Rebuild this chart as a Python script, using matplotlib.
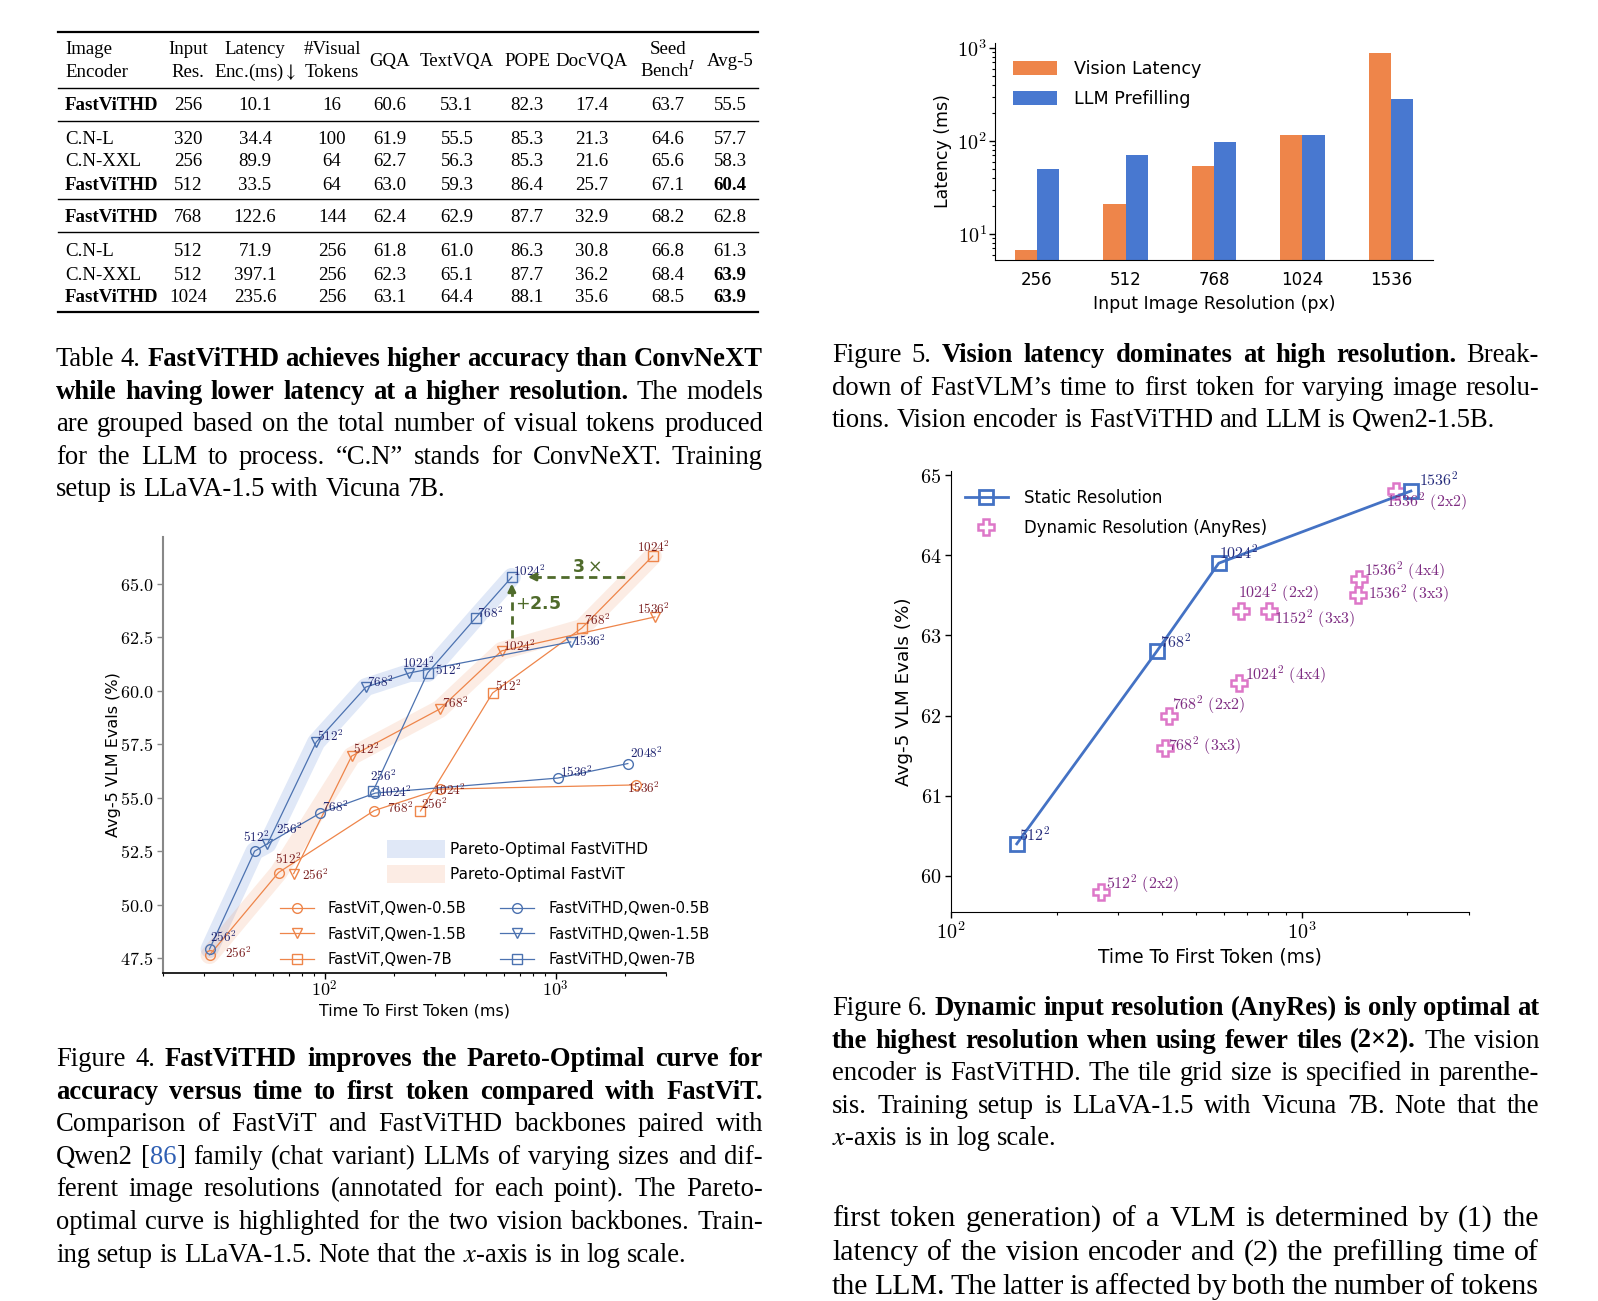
import matplotlib
matplotlib.use('Agg')
import numpy as np
import matplotlib.pyplot as plt
from matplotlib.lines import Line2D
from matplotlib.patches import Patch
from matplotlib.ticker import FuncFormatter, LogLocator, NullFormatter

plt.rcParams['mathtext.fontset'] = 'cm'
plt.rcParams['font.family'] = ['DejaVu Sans']

# ---------------- data ----------------
# Table 4
encoders = ['FastViTHD', 'C.N-L', 'C.N-XXL', 'FastViTHD', 'FastViTHD', 'C.N-L', 'C.N-XXL', 'FastViTHD']
input_res = ['256', '320', '256', '512', '768', '512', '512', '1024']
enc_latency = ['10.1', '34.4', '89.9', '33.5', '122.6', '71.9', '397.1', '235.6']
visual_tokens = ['16', '100', '64', '64', '144', '256', '256', '256']
gqa = [60.6, 61.9, 62.7, 63.0, 62.4, 61.8, 62.3, 63.1]
textvqa = [53.1, 55.5, 56.3, 59.3, 62.9, 61.0, 65.1, 64.4]
pope = [82.3, 85.3, 85.3, 86.4, 87.7, 86.3, 87.7, 88.1]
docvqa = [17.4, 21.3, 21.6, 25.7, 32.9, 30.8, 36.2, 35.6]
seedbench = [63.7, 64.6, 65.6, 67.1, 68.2, 66.8, 68.4, 68.5]
avg5 = [55.5, 57.7, 58.3, 60.4, 62.8, 61.3, 63.9, 63.9]
avg5_best = [3, 6, 7]

# Figure 5
resolutions = ['256', '512', '768', '1024', '1536']
vision_latency = [6.7, 21, 54, 115, 883]
llm_prefill = [50, 70.6, 97, 115, 283]

# Figure 4
vit_05_x = [31.8, 63.2, 164, 315, 2218]
vit_05_y = [47.64, 51.5, 54.4, 55.4, 55.6]
vit_05_res = [256, 512, 768, 1024, 1536]
vit_15_x = [73.5, 131, 315, 583, 2685]
vit_15_y = [51.45, 56.95, 59.15, 61.87, 63.46]
vit_15_res = [256, 512, 768, 1024, 1536]
vit_7_x = [260, 533, 1297, 2630]
vit_7_y = [54.38, 59.9, 62.94, 66.31]
vit_7_res = [256, 512, 768, 1024]
hd_05_x = [31.8, 49.8, 96, 166, 1020, 2051]
hd_05_y = [47.92, 52.5, 54.29, 55.22, 55.92, 56.6]
hd_05_res = [256, 512, 768, 1024, 1536, 2048]
hd_15_x = [56.6, 92, 151, 233, 1161]
hd_15_y = [52.83, 57.6, 60.18, 60.84, 62.29]
hd_15_res = [256, 512, 768, 1024, 1536]
hd_7_x = [162, 279, 450, 646]
hd_7_y = [55.3, 60.84, 63.41, 65.33]
hd_7_res = [256, 512, 768, 1024]
hd_pareto_x = [31.8, 49.8, 56.6, 92, 151, 233, 279, 450, 646]
hd_pareto_y = [47.92, 52.5, 52.83, 57.6, 60.18, 60.84, 60.84, 63.41, 65.33]
vit_pareto_x = [31.8, 63.2, 131, 315, 583, 1297, 2630]
vit_pareto_y = [47.64, 51.5, 56.95, 59.15, 61.87, 62.94, 66.31]

# Figure 6
static_x = [154, 386, 580, 2048]
static_y = [60.4, 62.8, 63.9, 64.8]
static_res = [512, 768, 1024, 1536]
dyn_x = [268, 418, 407, 661, 670, 806, 1456, 1445, 1854]
dyn_y = [59.8, 62.0, 61.6, 62.4, 63.3, 63.3, 63.7, 63.5, 64.8]
dyn_res = [512, 768, 768, 1024, 1024, 1152, 1536, 1536, 1536]
dyn_grid = ['2x2', '2x2', '3x3', '4x4', '2x2', '3x3', '4x4', '3x3', '2x2']

# ---------------- page ----------------
W, H = 1598, 1301
fig = plt.figure(figsize=(W / 100, H / 100), dpi=100)
renderer = fig.canvas.get_renderer()
SERIF = 'Liberation Serif'
ORANGE = '#EE854A'
BLUE = '#4C72B0'
GREEN = '#4F6B2B'
LAB_BLUE = '#1F2470'
LAB_RED = '#7A1E1E'


def fx(x):
    return x / W


def fy(y):
    return 1 - y / H


def add_ax(left, top, right, bottom):
    return fig.add_axes([left / W, 1 - bottom / H, (right - left) / W, (bottom - top) / H])


def draw_line(x0, x1, y, segs, size, justify=True):
    """one line of caption text, words spread to fill x0..x1"""
    words = [[]]
    for text, kind in segs:
        for i, p in enumerate(text.split(' ')):
            if i > 0:
                words.append([])
            if p:
                words[-1].append((p, kind))
    words = [w for w in words if w]
    items, total = [], 0
    for w in words:
        arts, ww = [], 0
        for p, kind in w:
            t = fig.text(0, fy(y), p, fontsize=size, family=SERIF,
                         weight='bold' if kind == 'b' else 'normal',
                         color='#2F5FB3' if kind == 'c' else 'black',
                         math_fontfamily='stix', va='baseline', ha='left')
            wp = t.get_window_extent(renderer).width
            arts.append((t, wp))
            ww += wp
        items.append(arts)
        total += ww
    gap = size * 100 / 72 * 0.25
    if justify and len(items) > 1:
        gap = (x1 - x0 - total) / (len(items) - 1)
    x = x0
    for arts in items:
        for t, wp in arts:
            t.set_x(fx(x))
            x += wp
        x += gap


def draw_par(x0, x1, y0, step, lines, size, last_full=False):
    for i, segs in enumerate(lines):
        full = last_full or i < len(lines) - 1
        draw_line(x0, x1, y0 + i * step, segs, size, justify=full)


# ---------------- Table 4 ----------------
TX0, TX1 = 58, 758
for yy, lw in [(32, 1.6), (88, 1.0), (121, 1.0), (199, 1.0), (232, 1.0), (312, 1.6)]:
    fig.add_artist(Line2D([fx(TX0), fx(TX1)], [fy(yy), fy(yy)], lw=lw, color='black'))

col_x = [188, 255, 332, 390, 457, 527, 592, 668, 730]
headers = [('Input', 'Res.'), ('Latency', r'Enc.(ms)$\downarrow$'), ('#Visual', 'Tokens'), ('GQA',),
           ('TextVQA',), ('POPE',), ('DocVQA',), ('Seed', r'Bench$^{I}$'), ('Avg-5',)]
tkw = dict(fontsize=13.6, family=SERIF, math_fontfamily='stix', va='baseline')
fig.text(fx(65), fy(54), 'Image', ha='left', **tkw)
fig.text(fx(65), fy(77), 'Encoder', ha='left', **tkw)
for cx, hd in zip(col_x, headers):
    if len(hd) == 2:
        fig.text(fx(cx), fy(54), hd[0], ha='center', **tkw)
        fig.text(fx(cx), fy(77), hd[1], ha='center', **tkw)
    else:
        fig.text(fx(cx), fy(66), hd[0], ha='center', **tkw)

row_y = [104, 137, 160, 183, 216, 250, 273, 296]
for i, ry in enumerate(row_y):
    b = ry + 6.5
    fig.text(fx(65), fy(b), encoders[i], ha='left',
             weight='bold' if encoders[i] == 'FastViTHD' else 'normal', **tkw)
    vals = [input_res[i], enc_latency[i], visual_tokens[i], f'{gqa[i]:.1f}', f'{textvqa[i]:.1f}',
            f'{pope[i]:.1f}', f'{docvqa[i]:.1f}', f'{seedbench[i]:.1f}', f'{avg5[i]:.1f}']
    for j, (cx, v) in enumerate(zip(col_x, vals)):
        bold = j == 8 and i in avg5_best
        fig.text(fx(cx), fy(b), v, ha='center', weight='bold' if bold else 'normal', **tkw)

# ---------------- captions ----------------
CAP = 19.2
t4_caption = [
    [('Table 4. ', 'n'), ('FastViTHD achieves higher accuracy than ConvNeXT', 'b')],
    [('while having lower latency at a higher resolution.', 'b'), (' The models', 'n')],
    [('are grouped based on the total number of visual tokens produced', 'n')],
    [('for the LLM to process.  \u201cC.N\u201d stands for ConvNeXT. Training', 'n')],
    [('setup is LLaVA-1.5 with Vicuna 7B.', 'n')],
]
f5_caption = [
    [('Figure 5. ', 'n'), ('Vision latency dominates at high resolution.', 'b'), (' Break-', 'n')],
    [('down of FastVLM\u2019s time to first token for varying image resolu-', 'n')],
    [('tions. Vision encoder is FastViTHD and LLM is Qwen2-1.5B.', 'n')],
]
f6_caption = [
    [('Figure 6. ', 'n'), ('Dynamic input resolution (AnyRes) is only optimal at', 'b')],
    [('the highest resolution when using fewer tiles (2\u00d72).', 'b'), (' The vision', 'n')],
    [('encoder is FastViTHD. The tile grid size is specified in parenthe-', 'n')],
    [('sis.  Training setup is LLaVA-1.5 with Vicuna 7B. Note that the', 'n')],
    [('$x$-axis is in log scale.', 'n')],
]
f4_caption = [
    [('Figure 4. ', 'n'), ('FastViTHD improves the Pareto-Optimal curve for', 'b')],
    [('accuracy versus time to first token compared with FastViT.', 'b')],
    [('Comparison of FastViT and FastViTHD backbones paired with', 'n')],
    [('Qwen2 [', 'n'), ('86', 'c'), ('] family (chat variant) LLMs of varying sizes and dif-', 'n')],
    [('ferent image resolutions (annotated for each point).  The Pareto-', 'n')],
    [('optimal curve is highlighted for the two vision backbones. Train-', 'n')],
    [('ing setup is LLaVA-1.5. Note that the $x$-axis is in log scale.', 'n')],
]
body_text = [
    [('first token generation) of a VLM is determined by (1) the', 'n')],
    [('latency of the vision encoder and (2) the prefilling time of', 'n')],
    [('the LLM. The latter is affected by both the number of tokens', 'n')],
]
LX0, LX1 = 56, 763
RX0, RX1 = 832, 1539
draw_par(LX0, LX1, 366, 32.6, t4_caption, CAP)
draw_par(RX0, RX1, 362, 32.6, f5_caption, CAP)
draw_par(RX0, RX1, 1015, 32.6, f6_caption, CAP)
draw_par(LX0, LX1, 1066, 32.6, f4_caption, CAP)
draw_par(RX0, RX1, 1226, 33.8, body_text, 21.5, last_full=True)

# ---------------- Figure 5: latency bars ----------------
ax5 = add_ax(995, 43, 1433, 260)
ax5.set_yscale('log')
pos = np.arange(len(resolutions))
ax5.bar(pos - 0.125, vision_latency, width=0.25, color='#EE854A', label='Vision Latency')
ax5.bar(pos + 0.125, llm_prefill, width=0.25, color='#4878D0', label='LLM Prefilling')
ax5.set_xlim(-0.475, 4.475)
ax5.set_ylim(5.25, 1130)
ax5.set_xticks(pos)
ax5.set_xticklabels(resolutions, fontsize=12)
ax5.yaxis.set_major_locator(LogLocator(base=10))
ax5.yaxis.set_minor_locator(LogLocator(base=10, subs=np.arange(2, 10)))
ax5.yaxis.set_major_formatter(FuncFormatter(lambda v, p: f'$10^{{{int(round(np.log10(v)))}}}$'))
ax5.yaxis.set_minor_formatter(NullFormatter())
ax5.tick_params(axis='y', labelsize=14.5, length=4, width=1, pad=2)
ax5.tick_params(axis='y', which='minor', length=2, width=0.8)
ax5.tick_params(axis='x', length=0, pad=8)
for s in ['top', 'right']:
    ax5.spines[s].set_visible(False)
ax5.set_ylabel('Latency (ms)', fontsize=12.5, labelpad=4)
ax5.set_xlabel('Input Image Resolution (px)', fontsize=12.5, labelpad=4)
ax5.legend(loc='upper left', bbox_to_anchor=(fx(1013), fy(60)), bbox_transform=fig.transFigure,
           frameon=False, fontsize=12.6, handlelength=2.5, handleheight=0.85, handletextpad=1.0,
           labelspacing=0.7, borderpad=0, borderaxespad=0)

# ---------------- Figure 4: pareto curves ----------------
ax4 = add_ax(163, 537, 666, 973)
ax4.set_xscale('log')
ax4.plot(hd_pareto_x, hd_pareto_y, color='#4878D0', alpha=0.17, lw=13,
         solid_joinstyle='round', solid_capstyle='round', zorder=1)
ax4.plot(vit_pareto_x, vit_pareto_y, color=ORANGE, alpha=0.15, lw=13,
         solid_joinstyle='round', solid_capstyle='round', zorder=1)

series = [
    ('FastViT,Qwen-0.5B', vit_05_x, vit_05_y, vit_05_res, ORANGE, 'o', LAB_RED,
     [(15, -2), (-4, -13), (13, -2), (-7, 1), (-9, 3)]),
    ('FastViT,Qwen-1.5B', vit_15_x, vit_15_y, vit_15_res, ORANGE, 'v', LAB_RED,
     [(8, 2), (1, -7), (2, -6), (1, -5), (-18, -8)]),
    ('FastViT,Qwen-7B', vit_7_x, vit_7_y, vit_7_res, ORANGE, 's', LAB_RED,
     [(1, -7), (2, -7), (2, -8), (-16, -9)]),
    ('FastViTHD,Qwen-0.5B', hd_05_x, hd_05_y, hd_05_res, BLUE, 'o', LAB_BLUE,
     [(0, -12), (-12, -14), (2, -6), (4, -1), (2, -6), (2, -10)]),
    ('FastViTHD,Qwen-1.5B', hd_15_x, hd_15_y, hd_15_res, BLUE, 'v', LAB_BLUE,
     [(9, -15), (1, -6), (1, -5), (-7, -10), (2, -1)]),
    ('FastViTHD,Qwen-7B', hd_7_x, hd_7_y, hd_7_res, BLUE, 's', LAB_BLUE,
     [(-3, -15), (7, -3), (1, -5), (1, -6)]),
]
line_handles = []
for name, xs, ys, rs, col, mk, lcol, offs in series:
    h, = ax4.plot(xs, ys, color=col, lw=0.9, marker=mk, ms=7, mfc='none', mec=col, mew=1.0,
                  label=name, zorder=3)
    line_handles.append(h)
    for x, y, r, (dx, dy) in zip(xs, ys, rs, offs):
        ax4.annotate(f'${r}^2$', (x, y), xytext=(dx, -dy), textcoords='offset pixels',
                     ha='left', va='center', fontsize=9.5, color=lcol, zorder=4)

# 3x / +2.5 callouts
ax4.plot([800, 1990], [hd_7_y[-1], hd_7_y[-1]], ls='--', color=GREEN, lw=2, dashes=(3, 2), zorder=5)
ax4.annotate('', xy=(757, hd_7_y[-1]), xytext=(820, hd_7_y[-1]),
             arrowprops=dict(arrowstyle='-|>', color=GREEN, lw=2, mutation_scale=11,
                             shrinkA=0, shrinkB=0), zorder=5)
ax4.plot([hd_7_x[-1], hd_7_x[-1]], [62.47, 64.75], ls='--', color=GREEN, lw=2, dashes=(3, 2), zorder=5)
ax4.annotate('', xy=(hd_7_x[-1], 65.02), xytext=(hd_7_x[-1], 64.6),
             arrowprops=dict(arrowstyle='-|>', color=GREEN, lw=2, mutation_scale=11,
                             shrinkA=0, shrinkB=0), zorder=5)
ax4.text(1172, 65.8, r'$\mathbf{3}\times$', math_fontfamily='dejavusans', color=GREEN,
         fontsize=12.5, ha='left', va='center')
ax4.text(665, 64.07, r'$+\mathbf{2.5}$', math_fontfamily='dejavusans', color=GREEN,
         fontsize=12.5, ha='left', va='center')

ax4.set_xlim(20, 3000)
ax4.set_ylim(46.8, 67.2)
ax4.set_yticks([47.5, 50, 52.5, 55, 57.5, 60, 62.5, 65])
ax4.yaxis.set_major_formatter(FuncFormatter(lambda v, p: f'${v:.1f}$'))
ax4.xaxis.set_major_formatter(FuncFormatter(lambda v, p: f'$10^{{{int(round(np.log10(v)))}}}$'))
ax4.xaxis.set_minor_formatter(NullFormatter())
ax4.tick_params(labelsize=13, length=4, width=1, pad=3)
ax4.tick_params(axis='x', pad=1)
ax4.tick_params(axis='y', color='#888888')
ax4.tick_params(which='minor', length=2.5, width=0.8)
for s in ['top', 'right']:
    ax4.spines[s].set_visible(False)
ax4.spines['left'].set_color('#888888')
ax4.spines['left'].set_linewidth(1.5)
ax4.spines['bottom'].set_linewidth(1.2)
ax4.set_xlabel('Time To First Token (ms)', fontsize=11.4, labelpad=2)
ax4.set_ylabel('Avg-5 VLM Evals (%)', fontsize=11.5, labelpad=-1)

pareto_leg = ax4.legend([Patch(facecolor='#4878D0', alpha=0.17), Patch(facecolor=ORANGE, alpha=0.15)],
                        ['Pareto-Optimal FastViTHD', 'Pareto-Optimal FastViT'],
                        loc='upper left', bbox_to_anchor=(fx(387), fy(840)), bbox_transform=fig.transFigure,
                        frameon=False, fontsize=11, handlelength=3.8, handleheight=1.4,
                        handletextpad=0.3, labelspacing=0.5, borderpad=0, borderaxespad=0)
ax4.add_artist(pareto_leg)
ax4.legend(handles=line_handles, ncol=2, loc='upper left', bbox_to_anchor=(fx(280), fy(901)),
           bbox_transform=fig.transFigure, frameon=False, fontsize=10.6, handlelength=2.3,
           handletextpad=0.95, columnspacing=2.3, labelspacing=0.72, borderpad=0, borderaxespad=0)

# ---------------- Figure 6: static vs anyres ----------------
ax6 = add_ax(951, 471, 1469, 912)
ax6.set_xscale('log')
ax6.plot(dyn_x, dyn_y, ls='none', marker='P', ms=11, mfc='white', mec='#DD77C8', mew=1.8,
         label='Dynamic Resolution (AnyRes)', zorder=2)
ax6.plot(static_x, static_y, color='#4472C4', lw=2, marker='s', ms=10, mfc='none', mec='#4472C4',
         mew=2, label='Static Resolution', zorder=3)
static_offs = [(2, -9), (3, -10), (0, -11), (8, -12)]
for x, y, r, (dx, dy) in zip(static_x, static_y, static_res, static_offs):
    ax6.annotate(f'${r}^2$', (x, y), xytext=(dx, -dy), textcoords='offset pixels',
                 ha='left', va='center', fontsize=11.5, color='#262C7C')
dyn_offs = [(5, -8), (3, -11), (3, -2), (6, -9), (-3, -19), (5, 7), (5, -8), (10, -1), (-10, 11)]
for x, y, r, g, (dx, dy) in zip(dyn_x, dyn_y, dyn_res, dyn_grid, dyn_offs):
    ax6.annotate(rf'${r}^2\ \mathrm{{({g})}}$', (x, y), xytext=(dx, -dy), textcoords='offset pixels',
                 ha='left', va='center', fontsize=11.5, color='#7E2C82')
ax6.set_xlim(100, 3000)
ax6.set_ylim(59.55, 65.05)
ax6.set_yticks([60, 61, 62, 63, 64, 65])
ax6.yaxis.set_major_formatter(FuncFormatter(lambda v, p: f'${v:.0f}$'))
ax6.xaxis.set_major_formatter(FuncFormatter(lambda v, p: f'$10^{{{int(round(np.log10(v)))}}}$'))
ax6.xaxis.set_minor_formatter(NullFormatter())
ax6.tick_params(labelsize=14.5, length=4, width=1, pad=3)
ax6.tick_params(which='minor', length=2.5, width=0.8)
for s in ['top', 'right']:
    ax6.spines[s].set_visible(False)
ax6.set_xlabel('Time To First Token (ms)', fontsize=13.4, labelpad=3)
ax6.set_ylabel('Avg-5 VLM Evals (%)', fontsize=13.2, labelpad=5)
h_dyn, h_static = ax6.get_legend_handles_labels()[0]
ax6.legend([h_static, h_dyn], ['Static Resolution', 'Dynamic Resolution (AnyRes)'],
           loc='upper left', bbox_to_anchor=(fx(965), fy(489)), bbox_transform=fig.transFigure,
           frameon=False, fontsize=11.9, handlelength=2.6, handletextpad=1.0,
           labelspacing=0.7, borderpad=0, borderaxespad=0)

fig.savefig('out.png', dpi=100, facecolor='white')
